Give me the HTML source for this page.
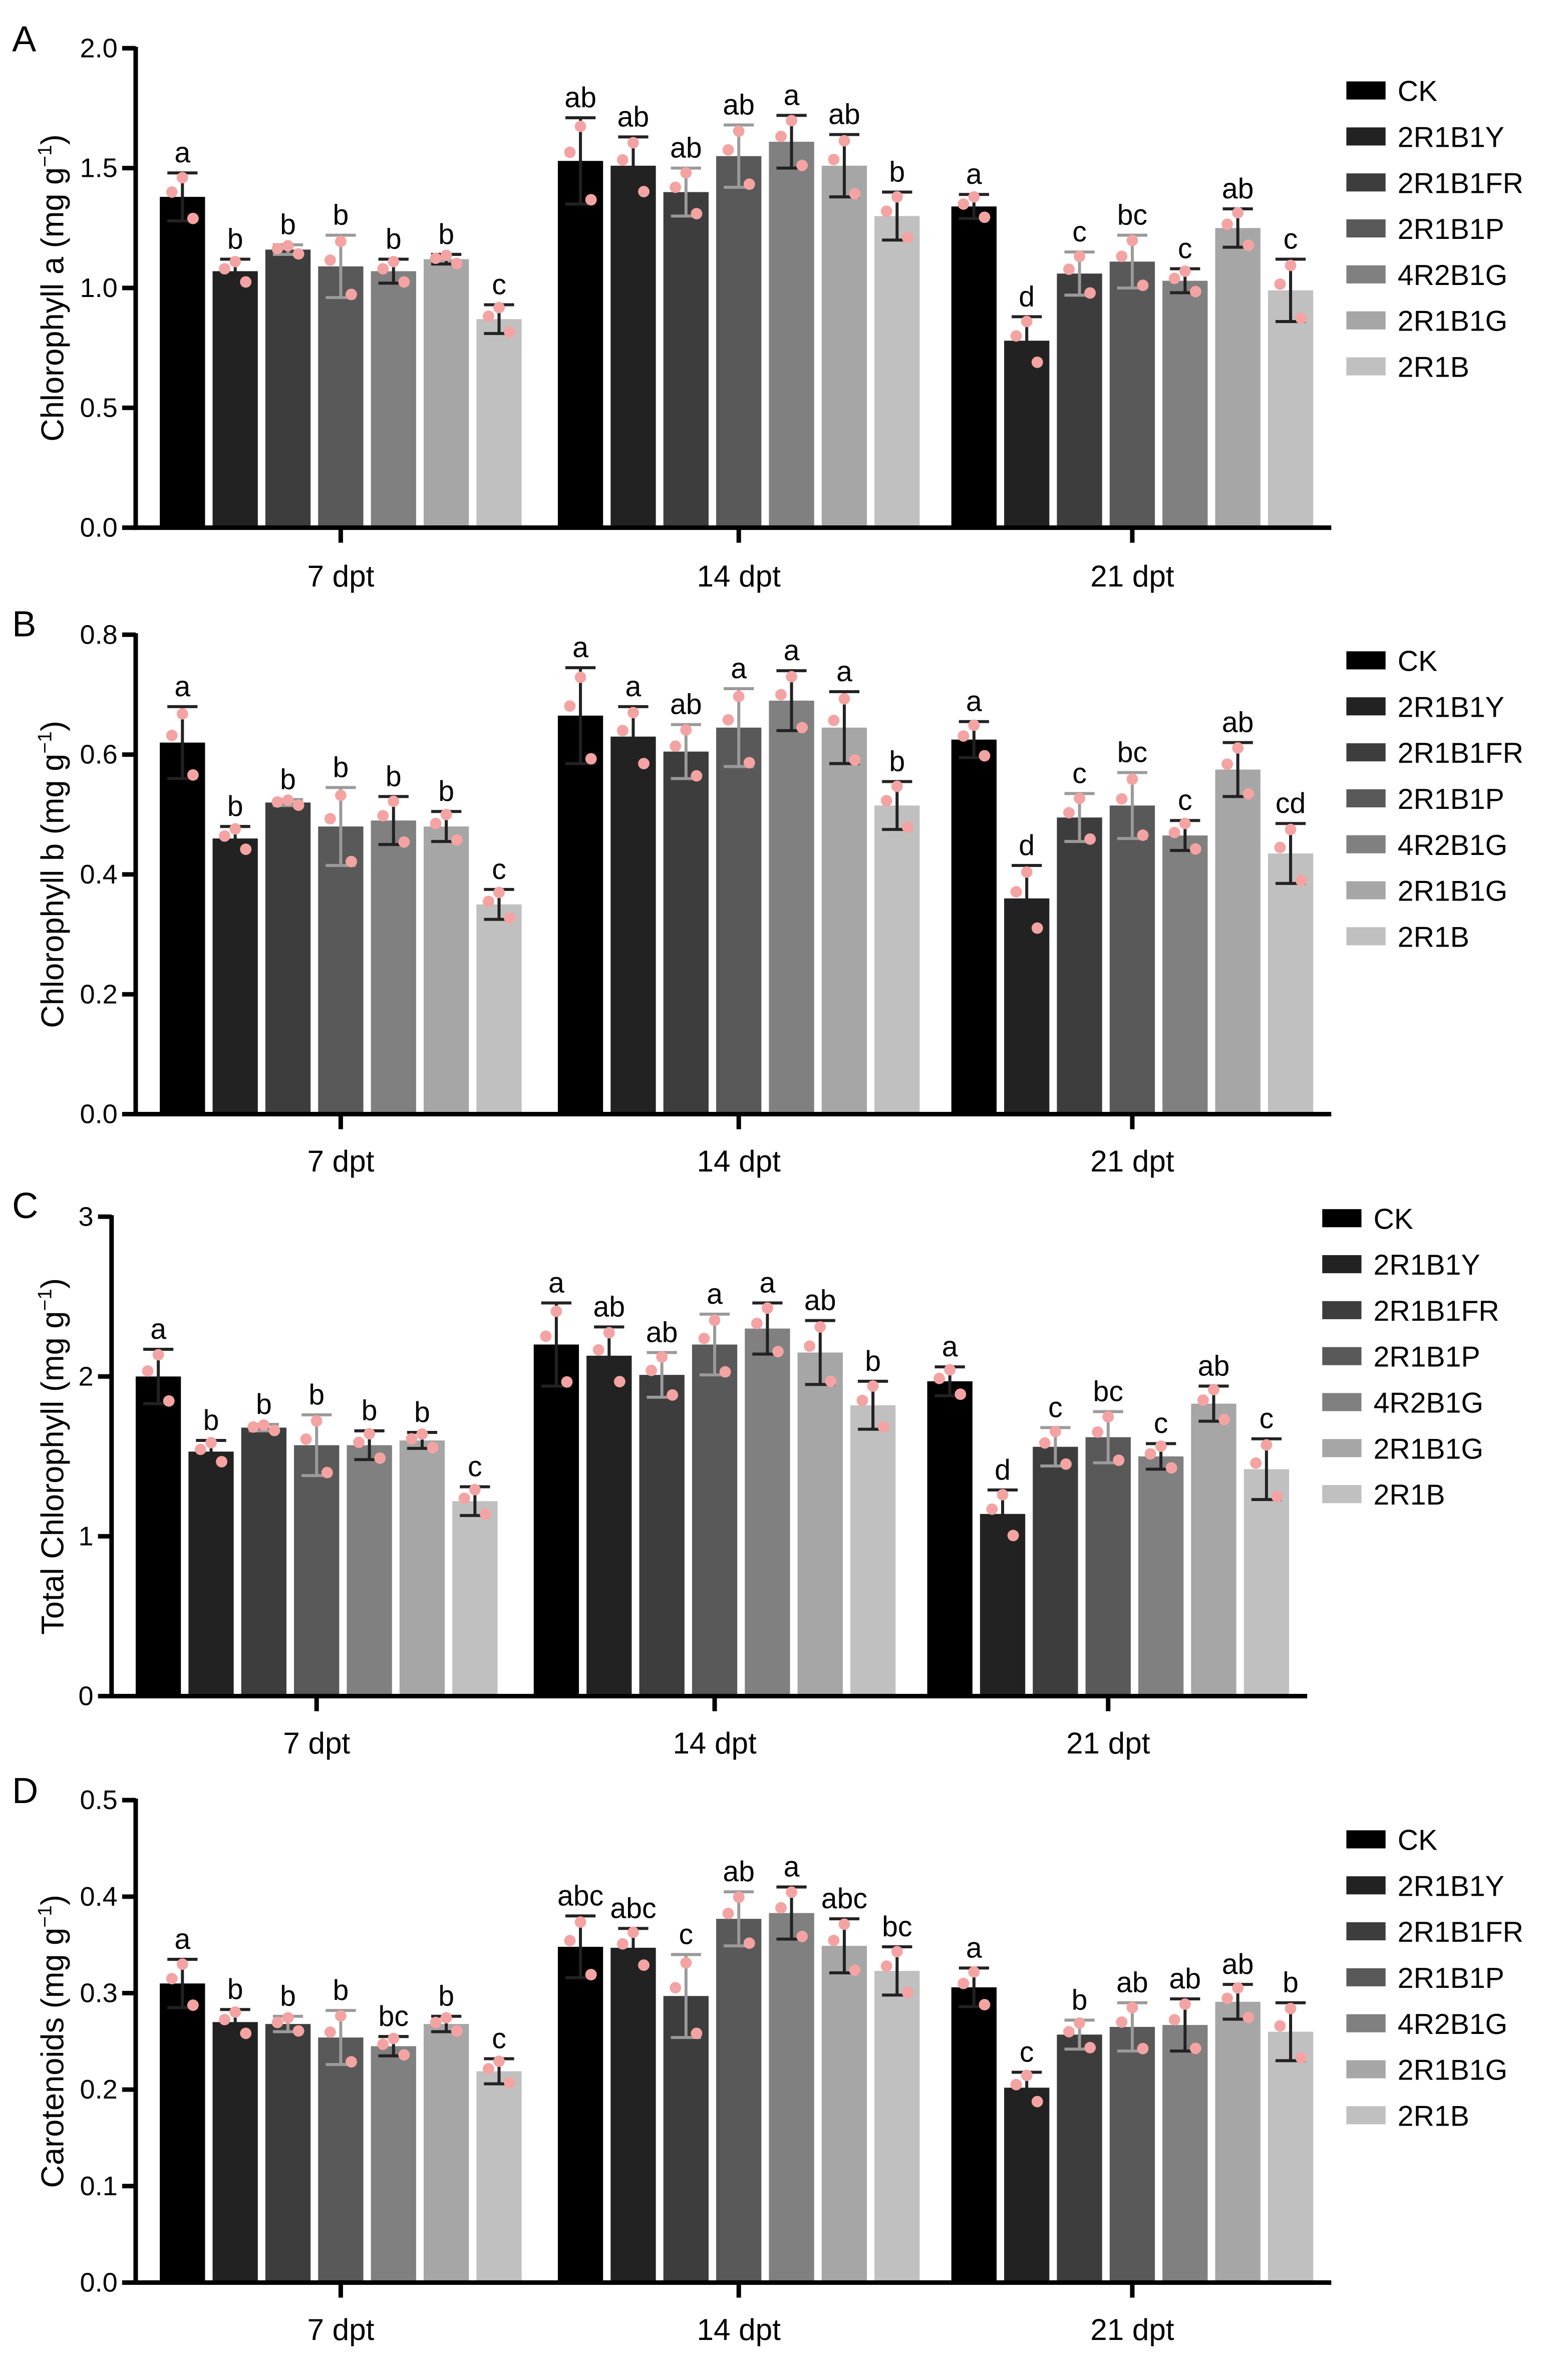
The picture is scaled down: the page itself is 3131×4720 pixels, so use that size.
<!DOCTYPE html>
<html><head><meta charset="utf-8"><style>
html,body{margin:0;padding:0;background:#fff}
svg{display:block}
text{font-family:"Liberation Sans",Arial,sans-serif;fill:#000}
</style></head><body>
<svg id="fig" width="3131" height="4720" viewBox="0 0 1040 1568" preserveAspectRatio="none" xmlns="http://www.w3.org/2000/svg"></svg>
<script>
const groups = ["7 dpt","14 dpt","21 dpt"];
const series = ["CK","2R1B1Y","2R1B1FR","2R1B1P","4R2B1G","2R1B1G","2R1B"];
const colors = ["#000000","#222222","#3d3d3d","#595959","#808080","#a6a6a6","#c0c0c0"];

const meanA = [[1.38,1.07,1.16,1.09,1.07,1.12,0.87],[1.53,1.51,1.40,1.55,1.61,1.51,1.30],[1.34,0.78,1.06,1.11,1.03,1.25,0.99]];
const sdA   = [[0.10,0.05,0.02,0.13,0.05,0.02,0.06],[0.18,0.12,0.10,0.13,0.11,0.13,0.10],[0.05,0.10,0.09,0.11,0.05,0.08,0.13]];
const letA  = [["a","b","b","b","b","b","c"],["ab","ab","ab","ab","a","ab","b"],["a","d","c","bc","c","ab","c"]];
const ticksA = [0,0.5,1.0,1.5,2.0];

const meanB = [[0.62,0.46,0.52,0.48,0.49,0.48,0.35],[0.665,0.63,0.605,0.645,0.69,0.645,0.515],[0.625,0.36,0.495,0.515,0.465,0.575,0.435]];
const sdB   = [[0.06,0.02,0.005,0.065,0.04,0.025,0.025],[0.08,0.05,0.045,0.065,0.05,0.06,0.04],[0.03,0.055,0.04,0.055,0.025,0.045,0.05]];
const letB  = [["a","b","b","b","b","b","c"],["a","a","ab","a","a","a","b"],["a","d","c","bc","c","ab","cd"]];
const ticksB = [0,0.2,0.4,0.6,0.8];

const meanC = [[2.00,1.53,1.68,1.57,1.57,1.60,1.22],[2.20,2.13,2.01,2.20,2.30,2.15,1.82],[1.97,1.14,1.56,1.62,1.50,1.83,1.42]];
const sdC   = [[0.17,0.07,0.02,0.19,0.09,0.05,0.09],[0.26,0.18,0.14,0.19,0.16,0.20,0.15],[0.09,0.15,0.12,0.16,0.08,0.11,0.19]];
const letC  = [["a","b","b","b","b","b","c"],["a","ab","ab","a","a","ab","b"],["a","d","c","bc","c","ab","c"]];
const ticksC = [0,1,2,3];

const meanD = [[0.31,0.27,0.268,0.254,0.245,0.268,0.219],[0.348,0.347,0.297,0.377,0.383,0.349,0.323],[0.306,0.202,0.257,0.265,0.267,0.291,0.260]];
const sdD   = [[0.025,0.013,0.008,0.028,0.01,0.008,0.013],[0.032,0.02,0.043,0.028,0.027,0.028,0.025],[0.02,0.016,0.015,0.025,0.027,0.018,0.03]];
const letD  = [["a","b","b","b","bc","b","c"],["abc","abc","c","ab","a","abc","bc"],["a","c","b","ab","ab","ab","b"]];
const ticksD = [0,0.1,0.2,0.3,0.4,0.5];

const NS="http://www.w3.org/2000/svg";
const svg=document.getElementById('fig');
function mk(tag,attrs,parent,txt){const e=document.createElementNS(NS,tag);for(const k in attrs)e.setAttribute(k,attrs[k]);if(txt!==undefined)e.textContent=txt;(parent||svg).appendChild(e);return e;}

const panels=[
 {id:"a",letter:"A",title:"Chlorophyll a (mg g",mean:meanA,sd:sdA,let:letA,ticks:ticksA,dec:1,ax:90,top:32,bot:350,gs:[106,370,631],lx:893,ly:60,xl:383,ltop:26},
 {id:"b",letter:"B",title:"Chlorophyll b (mg g",mean:meanB,sd:sdB,let:letB,ticks:ticksB,dec:1,ax:90,top:421,bot:739,gs:[106,370,631],lx:893,ly:438,xl:771,ltop:414},
 {id:"c",letter:"C",title:"Total Chlorophyll (mg g",mean:meanC,sd:sdC,let:letC,ticks:ticksC,dec:0,ax:74,top:807,bot:1125,gs:[90,354,615],lx:877,ly:808,xl:1157,ltop:800},
 {id:"d",letter:"D",title:"Carotenoids (mg g",mean:meanD,sd:sdD,let:letD,ticks:ticksD,dec:1,ax:90,top:1194,bot:1514,gs:[106,370,631],lx:893,ly:1220,xl:1546,ltop:1188}
];
const BW=30, STEP=35;

panels.forEach(p=>{
  const g=mk('g',{});
  
  
  const maxV=p.ticks[p.ticks.length-1];
  const y=v=>p.bot-(v/maxV)*(p.bot-p.top);
  const xc=(gi,si)=>p.gs[gi]+si*STEP+BW/2;
  const pl=mk('text',{x:8,y:p.ltop+8,'font-size':24},g,p.letter);
  
  
  const cy=(p.top+p.bot)/2, tx=42;
  const yt=mk('text',{x:tx,y:cy,'font-size':21,'text-anchor':'middle',transform:`rotate(-90 ${tx} ${cy})`},g);
  
  
  yt.appendChild(document.createTextNode(p.title));
  mk('tspan',{'font-size':13,dy:-8},yt,'−1');
  mk('tspan',{dy:8},yt,')');
  p.mean.forEach((row,gi)=>row.forEach((m,si)=>{
    const x0=p.gs[gi]+si*STEP, cx=x0+BW/2;
    const r=mk('rect',{x:x0,y:y(m),width:BW,height:p.bot-y(m),fill:colors[si]},g);
    
    
    const s=p.sd[gi][si], ec=(si==2||si==3)?'#9a9a9a':'#222';
    const eb=mk('g',{stroke:ec,'stroke-width':2},g);
    
    
    mk('line',{x1:cx,x2:cx,y1:y(m+s),y2:y(m-s)},eb);
    mk('line',{x1:cx-10,x2:cx+10,y1:y(m+s),y2:y(m+s)},eb);
    mk('line',{x1:cx-10,x2:cx+10,y1:y(m-s),y2:y(m-s)},eb);
    const dv=[m+0.8*s,m+0.2*s,m-0.9*s], dx=[0,-7,7];
    dv.forEach((v,k)=>{const d=mk('circle',{cx:cx+dx[k],cy:y(v),r:3.8,fill:'#f4a3a3'},g);
      
      });
    const lt=mk('text',{x:cx,y:y(m+s)-7,'font-size':19,'text-anchor':'middle'},g,p.let[gi][si]);
    
    
  }));
  const right=p.gs[2]+6*STEP+BW+12;
  const axg=mk('g',{stroke:'#000','stroke-width':3},g);
  
  
  mk('line',{x1:p.ax,x2:p.ax,y1:p.top-1,y2:p.bot+1.5},axg);
  mk('line',{x1:p.ax-1.5,x2:right,y1:p.bot,y2:p.bot},axg);
  p.ticks.forEach(t=>{
    mk('line',{x1:p.ax-9,x2:p.ax,y1:y(t),y2:y(t)},axg);
    const tl=mk('text',{x:p.ax-12,y:y(t)+6,'font-size':18,'text-anchor':'end'},g,t.toFixed(p.dec));
    
    
  });
  groups.forEach((gn,gi)=>{
    const cx=xc(gi,3);
    mk('line',{x1:cx,x2:cx,y1:p.bot,y2:p.bot+10},axg);
    const xl=mk('text',{x:cx,y:p.xl+6,'font-size':20,'text-anchor':'middle'},g,gn);
    
    
  });
  series.forEach((sn,si)=>{
    const ly=p.ly+si*30.5;
    const lg=mk('g',{},g);
    
    
    mk('rect',{x:p.lx,y:ly-6,width:26,height:12,fill:colors[si]},lg);
    mk('text',{x:p.lx+34,y:ly+7,'font-size':19},lg,sn);
  });
});
</script>
</body></html>
